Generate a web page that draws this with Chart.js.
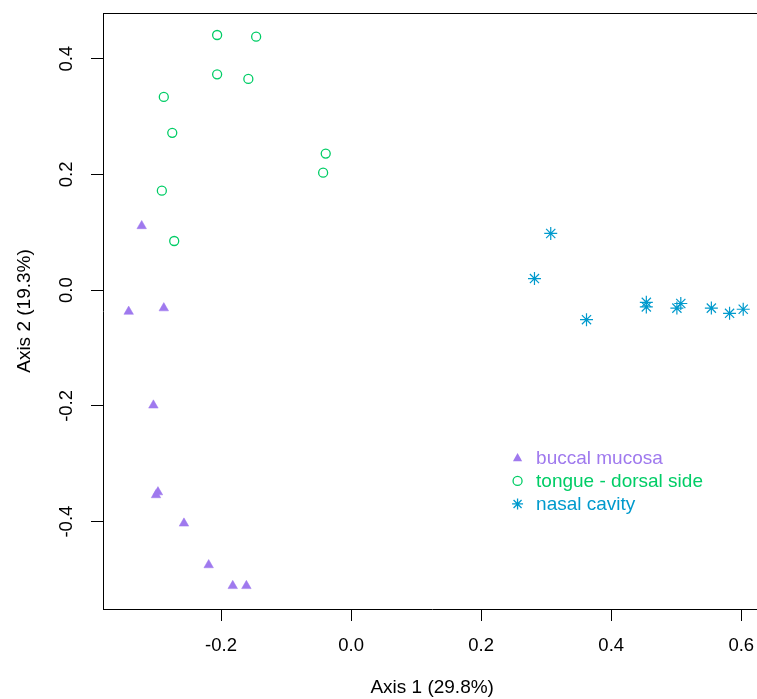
<!DOCTYPE html>
<html>
<head>
<meta charset="utf-8">
<script src="https://cdn.jsdelivr.net/npm/chart.js@4/dist/chart.umd.min.js"></script>
<style>
html, body { margin: 0; padding: 0; overflow: hidden; background: #fff; }
canvas { display: block; }
</style>
</head>
<body>
<canvas id="ChartCanvas" width="769" height="699" style="width:769px;height:699px"></canvas>
<script>
var seriesNames = ["buccal mucosa", "tongue - dorsal side", "nasal cavity"];
var seriesColors = ["rgb(159, 121, 238)", "rgb(0, 205, 102)", "rgb(0, 154, 205)"];

var buccalX = [-0.322, -0.342, -0.288, -0.304, -0.297, -0.300, -0.257, -0.219, -0.182, -0.161];
var buccalY = [0.111, -0.037, -0.031, -0.199, -0.349, -0.354, -0.403, -0.475, -0.511, -0.511];

var tongueX = [-0.206, -0.146, -0.206, -0.158, -0.288, -0.275, -0.039, -0.043, -0.291, -0.272];
var tongueY = [0.441, 0.438, 0.373, 0.365, 0.334, 0.272, 0.236, 0.203, 0.172, 0.085];

var nasalX = [0.307, 0.282, 0.362, 0.454, 0.454, 0.507, 0.501, 0.554, 0.582, 0.603];
var nasalY = [0.098, 0.020, -0.051, -0.021, -0.029, -0.023, -0.031, -0.031, -0.040, -0.033];

var xTicks = [-0.2, 0.0, 0.2, 0.4, 0.6];
var yTicks = [-0.4, -0.2, 0.0, 0.2, 0.4];
var xTitle = "Axis 1 (29.8%)";
var yTitle = "Axis 2 (19.3%)";

var legendAt = { x: 0.256, y: -0.290 }; // legend anchor in data units

function toPoints(xs, ys)
{
    var pts = [];
    for (var i = 0; i < xs.length; i++) pts.push({ x: xs[i], y: ys[i] });
    return pts;
}

var FONT = "'Liberation Sans', Arial, sans-serif";

function drawSymbol(ctx, kind, x, y, color)
{
    ctx.save();
    ctx.strokeStyle = color;
    ctx.fillStyle = color;
    ctx.lineWidth = 1.3;
    if (kind === 0) { // filled triangle
        ctx.beginPath();
        ctx.moveTo(x, y - 5);
        ctx.lineTo(x + 4.6, y + 3.3);
        ctx.lineTo(x - 4.6, y + 3.3);
        ctx.closePath();
        ctx.fill();
    } else if (kind === 1) { // open circle
        ctx.beginPath();
        ctx.arc(x, y, 4.5, 0, Math.PI * 2);
        ctx.stroke();
    } else { // asterisk
        ctx.beginPath();
        ctx.moveTo(x - 5.5, y); ctx.lineTo(x + 5.5, y);
        ctx.moveTo(x, y - 5.5); ctx.lineTo(x, y + 5.5);
        ctx.moveTo(x - 4, y - 4); ctx.lineTo(x + 4, y + 4);
        ctx.moveTo(x - 4, y + 4); ctx.lineTo(x + 4, y - 4);
        ctx.stroke();
    }
    ctx.restore();
}

function noPadding(scale)
{
    scale.paddingTop = 0;
    scale.paddingBottom = 0;
    scale.paddingLeft = 0;
    scale.paddingRight = 0;
}

var boxAndLegend = {
    id: "boxAndLegend",
    afterDraw: function(chart)
    {
        var ctx = chart.ctx;
        var a = chart.chartArea;
        ctx.save();
        ctx.strokeStyle = "#000";
        ctx.lineWidth = 1;
        ctx.beginPath();
        ctx.moveTo(a.left, a.top + 0.5);
        ctx.lineTo(chart.width, a.top + 0.5);
        ctx.stroke();

        var lx = chart.scales.x.getPixelForValue(legendAt.x);
        var ly = chart.scales.y.getPixelForValue(legendAt.y);
        ctx.font = "19px " + FONT;
        ctx.textBaseline = "middle";
        ctx.textAlign = "left";
        for (var i = 0; i < seriesNames.length; i++) {
            var yy = ly + i * 23;
            drawSymbol(ctx, i, lx, yy, seriesColors[i]);
            ctx.fillStyle = seriesColors[i];
            ctx.fillText(seriesNames[i], lx + 18.5, yy + 1);
        }
        ctx.restore();
    }
};

var data =
{
    datasets:
    [
        {
            label: seriesNames[0],
            data: toPoints(buccalX, buccalY),
            pointStyle: "triangle",
            pointRadius: 5.5,
            backgroundColor: seriesColors[0],
            borderColor: seriesColors[0],
            borderWidth: 0.5
        },
        {
            label: seriesNames[1],
            data: toPoints(tongueX, tongueY),
            pointStyle: "circle",
            pointRadius: 4.5,
            backgroundColor: "rgba(0,0,0,0)",
            borderColor: seriesColors[1],
            borderWidth: 1.3
        },
        {
            label: seriesNames[2],
            data: toPoints(nasalX, nasalY),
            pointStyle: "star",
            pointRadius: 6.5,
            backgroundColor: seriesColors[2],
            borderColor: seriesColors[2],
            borderWidth: 1.2
        }
    ]
};

var config =
{
    type: "scatter",
    data: data,
    options:
    {
        responsive: false,
        animation: false,
        layout: { padding: { top: 13, right: 0, bottom: 0, left: 0 } },
        plugins: { legend: { display: false }, tooltip: { enabled: false } },
        scales:
        {
            x:
            {
                type: "linear",
                min: -0.3815,
                max: 0.6308,
                afterBuildTicks: function(scale) { scale.ticks = xTicks.map(function(v) { return { value: v }; }); },
                afterFit: function(scale) { scale.height = 90; noPadding(scale); },
                grid: { drawOnChartArea: false, drawTicks: true, tickLength: 12, tickColor: "#000", tickWidth: 1 },
                border: { display: true, color: "#000", width: 1 },
                ticks:
                {
                    color: "#000",
                    font: { family: FONT, size: 18.5 },
                    padding: 14,
                    maxRotation: 0,
                    callback: function(value) { return value.toFixed(1); }
                },
                title: { display: true, text: xTitle, color: "#000", font: { family: FONT, size: 19 }, padding: { top: 0, bottom: 0 } }
            },
            y:
            {
                type: "linear",
                min: -0.551,
                max: 0.479,
                afterBuildTicks: function(scale) { scale.ticks = yTicks.map(function(v) { return { value: v }; }); },
                afterFit: function(scale) { scale.width = 103; noPadding(scale); },
                grid: { drawOnChartArea: false, drawTicks: true, tickLength: 12, tickColor: "#000", tickWidth: 1 },
                border: { display: true, color: "#000", width: 1 },
                ticks:
                {
                    color: "#000",
                    font: { family: FONT, size: 18.5 },
                    padding: 8,
                    minRotation: 90,
                    maxRotation: 90,
                    crossAlign: "center",
                    callback: function(value) { return value.toFixed(1); }
                },
                title: { display: true, text: yTitle, color: "#000", font: { family: FONT, size: 19 }, padding: { top: 13, bottom: 0 } }
            }
        }
    },
    plugins: [boxAndLegend]
};

var createdChart = new Chart(document.getElementById("ChartCanvas").getContext("2d"), config);
</script>
</body>
</html>
